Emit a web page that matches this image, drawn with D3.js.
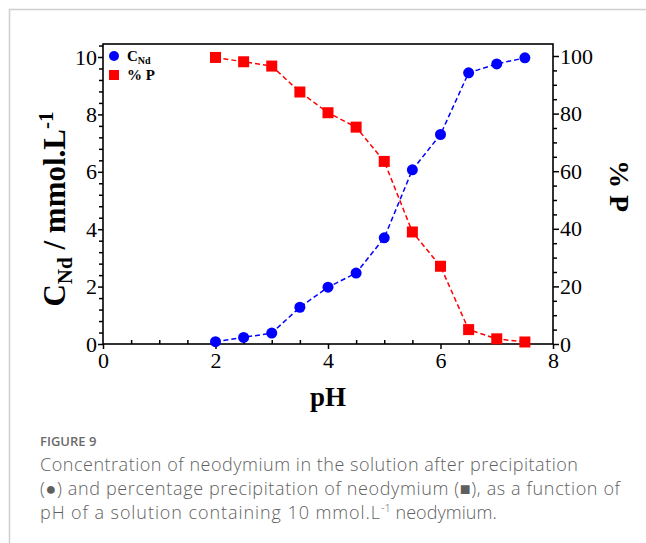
<!DOCTYPE html>
<html><head><meta charset="utf-8">
<script src="https://cdn.jsdelivr.net/npm/d3@7"></script>
<style>body{margin:0;background:#fff}svg{display:block}</style>
</head><body>
<script>
const pH = [2, 2.5, 3, 3.5, 4, 4.5, 5, 5.5, 6, 6.5, 7, 7.5];
const cNd = [0.08, 0.23, 0.38, 1.28, 1.98, 2.47, 3.7, 6.07, 7.3, 9.45, 9.76, 9.97];
const pctP = [99.5, 98.0, 96.5, 87.5, 80.3, 75.3, 63.4, 38.9, 27.0, 5.0, 1.8, 0.7];
const xTicks = [0, 2, 4, 6, 8];
const yLeftTicks = [0, 2, 4, 6, 8, 10];
const yRightTicks = [0, 20, 40, 60, 80, 100];

const W = 646, H = 543;
const svg = d3.select("body").append("svg").attr("width", W).attr("height", H);
const serif = "'Liberation Serif','Times New Roman',serif";

// card border
svg.append("path").attr("d", "M9.5,543 L9.5,9.5 L646,9.5").attr("fill", "none").attr("stroke", "#cfcfcf").attr("stroke-width", 1.5);

const x = d3.scaleLinear([0, 8], [103, 553]);
const yL = d3.scaleLinear([0, 10], [344, 57]);
const yR = d3.scaleLinear([0, 100], [344, 56]);
const frameTop = 44;

const fmt = d => d;
// minor ticks
const minorX = d3.range(0, 8.01, 0.5).filter(v => v % 2 !== 0);
const minorL = d3.range(0, 10.5, 0.4).map(v => +v.toFixed(1)).filter(v => Math.abs(v/2 - Math.round(v/2)) > 1e-6);
const minorR = d3.range(0, 101, 5).filter(v => v % 20 !== 0);

function styleAxis(g) {
  g.select(".domain").remove();
  g.selectAll("line").attr("stroke", "#000").attr("stroke-width", 1.5);
  g.selectAll("text").attr("font-family", serif).attr("font-size", 22).attr("fill", "#000");
}

svg.append("g").attr("transform", "translate(0,344)")
  .call(d3.axisBottom(x).tickValues(xTicks).tickFormat(fmt).tickSize(5).tickPadding(3)).call(styleAxis);
svg.append("g").attr("transform", "translate(0,344)")
  .call(d3.axisTop(x).tickValues(minorX).tickFormat("").tickSize(4)).call(styleAxis);

svg.append("g").attr("transform", "translate(103,0)")
  .call(d3.axisLeft(yL).tickValues(yLeftTicks).tickFormat(fmt).tickSize(5).tickPadding(1)).call(styleAxis);
svg.append("g").attr("transform", "translate(103,0)")
  .call(d3.axisLeft(yL).tickValues(minorL).tickFormat("").tickSize(4)).call(styleAxis);

svg.append("g").attr("transform", "translate(553,0)")
  .call(d3.axisRight(yR).tickValues(yRightTicks).tickFormat(fmt).tickSize(6).tickPadding(1)).call(styleAxis);
svg.append("g").attr("transform", "translate(553,0)")
  .call(d3.axisRight(yR).tickValues(minorR).tickFormat("").tickSize(4)).call(styleAxis);

// frame
svg.append("rect").attr("x", 103).attr("y", frameTop).attr("width", 450).attr("height", 344 - frameTop)
  .attr("fill", "none").attr("stroke", "#000").attr("stroke-width", 1.6);

// lines
const lineB = d3.line().x((d, i) => x(pH[i])).y(d => yL(d));
const lineR = d3.line().x((d, i) => x(pH[i])).y(d => yR(d));
svg.append("path").attr("d", lineB(cNd)).attr("fill", "none").attr("stroke", "#0000ff")
  .attr("stroke-width", 1.5).attr("stroke-dasharray", "5,3");
svg.append("path").attr("d", lineR(pctP)).attr("fill", "none").attr("stroke", "#ff0000")
  .attr("stroke-width", 1.5).attr("stroke-dasharray", "5,3");

svg.append("g").selectAll("circle").data(cNd).join("circle")
  .attr("cx", (d, i) => x(pH[i])).attr("cy", d => yL(d)).attr("r", 5.5).attr("fill", "#0000ff");
svg.append("g").selectAll("rect").data(pctP).join("rect")
  .attr("x", (d, i) => x(pH[i]) - 5.5).attr("y", d => yR(d) - 5.5)
  .attr("width", 11).attr("height", 11).attr("fill", "#ff0000");

// legend
svg.append("circle").attr("cx", 114).attr("cy", 56).attr("r", 5).attr("fill", "#0000ff");
const t1 = svg.append("text").attr("x", 127).attr("y", 61).attr("font-family", serif)
  .attr("font-weight", "bold").attr("font-size", 15).attr("fill", "#000");
t1.append("tspan").text("C");
t1.append("tspan").attr("dy", 3).attr("font-size", 10).text("Nd");
svg.append("rect").attr("x", 109).attr("y", 70).attr("width", 10).attr("height", 10).attr("fill", "#ff0000");
svg.append("text").attr("x", 127).attr("y", 80).attr("font-family", serif)
  .attr("font-weight", "bold").attr("font-size", 15).text("% P");

// axis titles
svg.append("text").attr("x", 328).attr("y", 406).attr("text-anchor", "middle")
  .attr("font-family", serif).attr("font-weight", "bold").attr("font-size", 27).text("pH");

const yt = svg.append("text").attr("transform", "translate(65,209) rotate(-90)").attr("text-anchor", "middle")
  .attr("font-family", serif).attr("font-weight", "bold").attr("font-size", 31);
yt.append("tspan").text("C");
yt.append("tspan").attr("dy", 7).attr("font-size", 21).text("Nd");
yt.append("tspan").attr("dy", -7).text(" / mmol.L");
yt.append("tspan").attr("dy", -12).attr("font-size", 21).text("-1");

svg.append("text").attr("transform", "translate(610,186) rotate(90)").attr("text-anchor", "middle")
  .attr("font-family", serif).attr("font-weight", "bold").attr("font-size", 28).text("% P");

// caption
const sans = "'Open Sans','Noto Sans',sans-serif";
svg.append("text").attr("x", 40).attr("y", 446).attr("font-family", sans).attr("font-weight", 600)
  .attr("font-size", 13).attr("fill", "#6b6b6b").text("FIGURE 9");
const capLines = [
  "Concentration of neodymium in the solution after precipitation",
  "(\u25CF) and percentage precipitation of neodymium (\u25A0), as a function of",
];
const cap = svg.append("g").attr("font-family", sans).attr("font-size", 18).attr("font-weight", 300).attr("fill", "#5f5f5f");
cap.append("text").attr("x", 40).attr("y", 471).attr("textLength", 538).attr("lengthAdjust", "spacing").text(capLines[0]);
cap.append("text").attr("x", 40).attr("y", 495).attr("textLength", 580).attr("lengthAdjust", "spacing").text(capLines[1]);
const l3 = cap.append("text").attr("x", 40).attr("y", 519);
l3.append("tspan").attr("textLength", 340).attr("lengthAdjust", "spacing").text("pH of a solution containing 10 mmol.L");
l3.append("tspan").attr("dy", -7).attr("font-size", 11).text("-1");
l3.append("tspan").attr("dy", 7).attr("textLength", 106).attr("lengthAdjust", "spacing").text(" neodymium.");
</script>
</body></html>
